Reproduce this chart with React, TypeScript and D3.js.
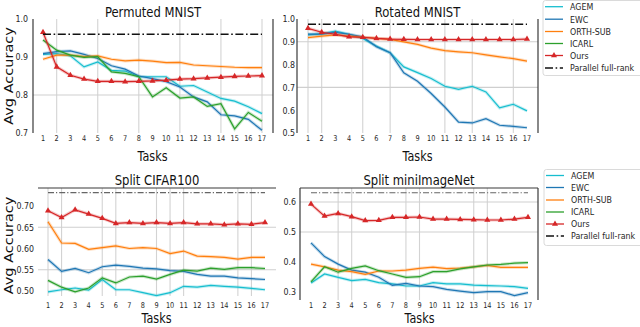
import React from 'react';
import * as d3 from 'd3';

// task index on the x axis
const tasks = [1, 2, 3, 4, 5, 6, 7, 8, 9, 10, 11, 12, 13, 14, 15, 16, 17];
const methods = ['AGEM', 'EWC', 'ORTH-SUB', 'ICARL', 'Ours'];

// Permuted MNIST
const pmAgem = [0.907, 0.909, 0.903, 0.874, 0.887, 0.865, 0.863, 0.848, 0.848, 0.848, 0.823, 0.825, 0.808, 0.791, 0.784, 0.769, 0.751];
const pmEwc = [0.909, 0.914, 0.916, 0.907, 0.896, 0.877, 0.868, 0.85, 0.843, 0.835, 0.821, 0.795, 0.782, 0.748, 0.745, 0.736, 0.707];
const pmOrth = [0.894, 0.905, 0.905, 0.901, 0.903, 0.894, 0.89, 0.892, 0.889, 0.885, 0.886, 0.879, 0.877, 0.875, 0.873, 0.872, 0.872];
const pmIcarl = [0.945, 0.918, 0.905, 0.899, 0.901, 0.861, 0.857, 0.848, 0.795, 0.819, 0.792, 0.795, 0.77, 0.777, 0.711, 0.754, 0.731];
const pmOurs = [0.965, 0.874, 0.852, 0.842, 0.836, 0.836, 0.835, 0.836, 0.837, 0.839, 0.842, 0.843, 0.845, 0.847, 0.849, 0.85, 0.851];
const pmParallel = 0.96;

// Rotated MNIST
const rmAgem = [0.93, 0.935, 0.947, 0.933, 0.915, 0.881, 0.852, 0.79, 0.765, 0.739, 0.705, 0.691, 0.705, 0.68, 0.61, 0.626, 0.597];
const rmEwc = [0.934, 0.934, 0.941, 0.933, 0.922, 0.878, 0.852, 0.764, 0.727, 0.673, 0.614, 0.548, 0.544, 0.563, 0.534, 0.529, 0.523];
const rmOrth = [0.918, 0.925, 0.93, 0.925, 0.92, 0.915, 0.911, 0.9, 0.889, 0.872, 0.861, 0.856, 0.852, 0.843, 0.834, 0.826, 0.815];
const rmOurs = [0.959, 0.942, 0.933, 0.922, 0.92, 0.915, 0.912, 0.911, 0.91, 0.91, 0.91, 0.91, 0.91, 0.91, 0.91, 0.91, 0.912];
const rmParallel = 0.977;

// Split CIFAR100
const scAgem = [0.498, 0.503, 0.507, 0.502, 0.527, 0.503, 0.503, 0.496, 0.489, 0.496, 0.511, 0.509, 0.513, 0.511, 0.509, 0.506, 0.503];
const scEwc = [0.574, 0.546, 0.553, 0.543, 0.557, 0.561, 0.558, 0.554, 0.552, 0.548, 0.546, 0.539, 0.535, 0.535, 0.531, 0.529, 0.527];
const scOrth = [0.663, 0.613, 0.612, 0.598, 0.602, 0.606, 0.6, 0.602, 0.6, 0.588, 0.594, 0.582, 0.581, 0.579, 0.575, 0.579, 0.579];
const scIcarl = [0.525, 0.509, 0.498, 0.507, 0.531, 0.519, 0.533, 0.535, 0.528, 0.539, 0.549, 0.547, 0.554, 0.551, 0.555, 0.555, 0.553];
const scOurs = [0.689, 0.673, 0.691, 0.681, 0.671, 0.659, 0.661, 0.659, 0.661, 0.659, 0.661, 0.658, 0.658, 0.656, 0.658, 0.657, 0.661];
const scParallel = 0.7315;

// Split miniImageNet
const smAgem = [0.33, 0.36, 0.349, 0.338, 0.342, 0.331, 0.327, 0.32, 0.32, 0.331, 0.327, 0.327, 0.323, 0.321, 0.32, 0.318, 0.312];
const smEwc = [0.464, 0.418, 0.393, 0.373, 0.366, 0.349, 0.322, 0.329, 0.32, 0.318, 0.309, 0.303, 0.298, 0.301, 0.301, 0.288, 0.298];
const smOrth = [0.393, 0.384, 0.373, 0.368, 0.359, 0.37, 0.37, 0.373, 0.379, 0.383, 0.378, 0.38, 0.384, 0.389, 0.382, 0.382, 0.382];
const smIcarl = [0.334, 0.384, 0.366, 0.379, 0.387, 0.371, 0.36, 0.349, 0.351, 0.368, 0.368, 0.377, 0.384, 0.39, 0.392, 0.396, 0.398];
const smOurs = [0.593, 0.553, 0.562, 0.551, 0.538, 0.539, 0.549, 0.549, 0.55, 0.543, 0.543, 0.542, 0.541, 0.54, 0.54, 0.543, 0.549];
const smParallel = 0.631;

const colors = {
  AGEM: '#17becf',
  EWC: '#1f77b4',
  'ORTH-SUB': '#ff7f0e',
  ICARL: '#2ca02c',
  Ours: '#d62728',
};

const FONT = 'DejaVu Sans, sans-serif';
const SX = 0.86; // the picture is squeezed horizontally

function Txt({ x, y, size, anchor = 'middle', rotate = 0, sx = SX, fill = '#262626', children }) {
  return (
    <text
      transform={`translate(${x},${y}) scale(${sx},1) rotate(${rotate})`}
      fontSize={size}
      fontFamily={FONT}
      textAnchor={anchor}
      fill={fill}
    >
      {children}
    </text>
  );
}

const panels = [
  {
    title: 'Permuted MNIST', titleY: 17, xr: [43, 262], dom: [0.7, 1.0], yr: [133, 19], top: 19, bottom: 133,
    left: 33, right: 273, spines: ['left', 'right'], yTicks: [0.7, 0.8, 0.9, 1.0], fmt: '.1f', labelRight: 28,
    xGrid: [2, 5, 8, 11, 14, 17], yGrid: [0.8], xLabY: 140.5, tasksY: 160.5, yLabel: 76,
    series: { AGEM: pmAgem, EWC: pmEwc, 'ORTH-SUB': pmOrth, ICARL: pmIcarl, Ours: pmOurs },
    parallel: pmParallel, dark: true,
  },
  {
    title: 'Rotated MNIST', titleY: 17, xr: [308, 527], dom: [0.5, 1.0], yr: [133, 19], top: 19, bottom: 133,
    left: 297, right: 538, spines: ['left', 'right'], yTicks: [0.5, 0.6, 0.7, 0.8, 0.9, 1.0], fmt: '.1f', labelRight: 295,
    xGrid: [1, 2, 5, 7, 11, 13, 16], yGrid: [0.9, 0.7], xLabY: 140.5, tasksY: 160.5, yLabel: null,
    series: { AGEM: rmAgem, EWC: rmEwc, 'ORTH-SUB': rmOrth, Ours: rmOurs },
    parallel: rmParallel, dark: true,
  },
  {
    title: 'Split CIFAR100', titleY: 185, xr: [48, 265], dom: [0.5, 0.7], yr: [291, 206], top: 188, bottom: 296,
    left: 38, right: 276, spines: ['top'], yTicks: [0.5, 0.55, 0.6, 0.65, 0.7], fmt: '.2f', labelRight: 34,
    xGrid: [1, 2, 5, 6, 9, 10, 11, 15, 16], yGrid: [0.65, 0.55], xLabY: 308, tasksY: 323, yLabel: 245.5,
    series: { AGEM: scAgem, EWC: scEwc, 'ORTH-SUB': scOrth, ICARL: scIcarl, Ours: scOurs },
    parallel: scParallel, dark: false,
  },
  {
    title: 'Split miniImageNet', titleY: 185, xr: [311, 528], dom: [0.3, 0.6], yr: [292, 202], top: 188, bottom: 300,
    left: 300, right: 538, spines: ['left', 'top', 'right'], yTicks: [0.3, 0.4, 0.5, 0.6], fmt: '.1f', labelRight: 296,
    xGrid: [3, 4, 8, 9, 13, 14], yGrid: [0.6, 0.5], xLabY: 308, tasksY: 323, yLabel: null,
    series: { AGEM: smAgem, EWC: smEwc, 'ORTH-SUB': smOrth, ICARL: smIcarl, Ours: smOurs },
    parallel: smParallel, dark: false,
  },
];

const tri = d3.symbol(d3.symbolTriangle).size(16)();

function Panel({ p }) {
  const x = d3.scaleLinear().domain([1, 17]).range(p.xr);
  const y = d3.scaleLinear().domain(p.dom).range(p.yr);
  const line = d3.line().x((d, i) => x(tasks[i])).y(d => y(d));
  const fmt = d3.format(p.fmt);
  const cx = (p.left + p.right) / 2;
  const spineColor = '#3a3a3a';

  return (
    <g>
      {p.xGrid.map(t => (
        <line key={'gx' + t} x1={x(t)} x2={x(t)} y1={p.top} y2={p.bottom} stroke="#d3d3d3" strokeWidth={1.1} />
      ))}
      {p.yGrid.map(v => (
        <line key={'gy' + v} x1={p.left} x2={p.right} y1={y(v)} y2={y(v)} stroke="#cfcfcf" strokeWidth={1.1} />
      ))}
      {p.spines.includes('left') && <line x1={p.left} x2={p.left} y1={p.top} y2={p.bottom} stroke={spineColor} strokeWidth={1.2} />}
      {p.spines.includes('right') && <line x1={p.right} x2={p.right} y1={p.top} y2={p.bottom} stroke={spineColor} strokeWidth={1.2} />}
      {p.spines.includes('top') && <line x1={p.left} x2={p.right} y1={p.top} y2={p.top} stroke={spineColor} strokeWidth={1.2} />}

      {methods.filter(m => p.series[m]).map(m => (
        <g key={m}>
          <path d={line(p.series[m])} fill="none" stroke={colors[m]} strokeOpacity={0.25} strokeWidth={3.2} />
          <path d={line(p.series[m])} fill="none" stroke={colors[m]} strokeWidth={1.2} />
        </g>
      ))}
      {p.series.Ours.map((v, i) => (
        <path key={'m' + i} d={tri} transform={`translate(${x(tasks[i])},${y(v)})`} fill={colors.Ours} />
      ))}

      <line
        x1={x(1)} x2={x(17)} y1={y(p.parallel)} y2={y(p.parallel)}
        stroke={p.dark ? '#111' : '#666'}
        strokeWidth={p.dark ? 1.6 : 1.1}
        strokeDasharray={p.dark ? '8,2.6,1.6,2.6' : '6,2,1.2,2'}
      />

      {p.yTicks.map(v => (
        <Txt key={'yt' + v} x={p.labelRight} y={y(v) + 3.3} size={9.2} anchor="end">{fmt(v)}</Txt>
      ))}
      {tasks.map(t => (
        <Txt key={'xt' + t} x={x(t)} y={p.xLabY} size={8} sx={0.82}>{t}</Txt>
      ))}
      <Txt x={cx} y={p.titleY} size={13.5} fill="#111">{p.title}</Txt>
      <Txt x={(p.xr[0] + p.xr[1]) / 2} y={p.tasksY} size={14} sx={0.8} fill="#111">Tasks</Txt>
      {p.yLabel !== null && (
        <Txt x={12.6} y={p.yLabel} size={14.5} rotate={-90} fill="#111">Avg Accuracy</Txt>
      )}
    </g>
  );
}

function Legend({ x0, y0, h, rows }) {
  return (
    <g>
      <rect x={x0} y={y0} width={110} height={h} rx={2.5} fill="#fff" stroke="#d6d6d6" strokeWidth={0.9} />
      {rows.map((r, i) => {
        const yy = r;
        const name = i < 5 ? methods[i] : 'Parallel full-rank';
        return (
          <g key={name}>
            {i < 5 ? (
              <line x1={x0 + 2} x2={x0 + 20} y1={yy} y2={yy} stroke={colors[name]} strokeWidth={1.3} />
            ) : (
              <line x1={x0 + 2} x2={x0 + 20} y1={yy} y2={yy} stroke="#111" strokeWidth={1.6} strokeDasharray="8,2.6,1.6,2.6" />
            )}
            {name === 'Ours' && <path d={tri} transform={`translate(${x0 + 11},${yy})`} fill={colors.Ours} />}
            <Txt x={x0 + 27} y={yy + 3.3} size={9.2} anchor="start">{name}</Txt>
          </g>
        );
      })}
    </g>
  );
}

export default function App() {
  return (
    <svg width={640} height={327} style={{ position: 'absolute', left: 0, top: 0, background: '#fff' }}>
      {panels.map(p => (
        <Panel key={p.title} p={p} />
      ))}
      <Legend x0={543} y0={0.5} h={75} rows={[6.7, 19.2, 31.5, 43.5, 55.5, 68]} />
      <Legend x0={544} y0={169.5} h={76} rows={[175.5, 187.5, 200, 212, 224, 236]} />
    </svg>
  );
}
